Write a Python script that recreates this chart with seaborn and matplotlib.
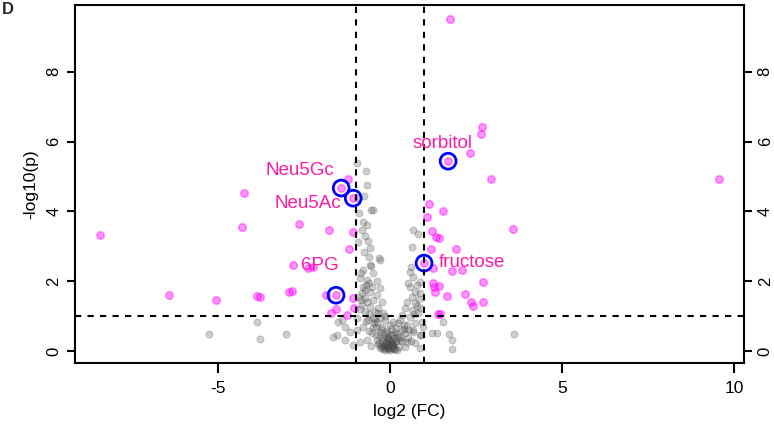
"""Volcano plot of metabolite fold changes (log2 FC vs -log10 p)."""

import matplotlib

matplotlib.use("Agg")
import matplotlib.pyplot as plt
import pandas as pd
import seaborn as sns

# significant metabolites (magenta)
SIG_X = [-4.24, -1.22, -1.42, -1.07, 1.74, 2.67, 2.64, 2.33, 1.69, 2.94, 9.56, 1.13, 1.54,
         -8.43, -4.30, -2.65, -1.77, -1.08, -1.19, -2.82, -2.38, -2.24, -6.42, -5.06, -3.87,
         -3.78, -2.94, -2.84, -1.86, -1.57, -1.08, -1.57, -1.71, -1.25, -1.05,
         1.08, 1.22, 1.34, 1.42, 1.19, 1.92, 0.99, 1.25, 1.80, 2.09, 2.70, 1.25, 1.42, 1.28,
         1.31, 1.66, 2.18, 2.35, 2.41, 2.70, 1.40, 1.45, 3.58]
SIG_Y = [4.53, 4.93, 4.67, 4.38, 9.51, 6.42, 6.22, 5.67, 5.44, 4.93, 4.92, 4.22, 4.01,
         3.32, 3.56, 3.64, 3.47, 3.41, 2.92, 2.46, 2.37, 2.41, 1.60, 1.46, 1.58,
         1.55, 1.68, 1.71, 1.61, 1.60, 1.52, 1.20, 1.09, 1.03, 1.23,
         3.84, 3.44, 3.27, 3.24, 2.92, 2.92, 2.52, 2.38, 2.29, 2.32, 1.98, 1.95, 1.86, 1.83,
         1.69, 1.58, 1.63, 1.40, 1.29, 1.40, 1.06, 1.06, 3.50]

# non-significant metabolites (grey)
NS_X = [-5.26, -3.87, -3.78, -3.02, -1.66, -1.51, 1.54, 1.22, 1.37, 1.72, 1.80, 1.80, 3.60,
        -0.96, -0.70, -0.67, -0.76, -0.93, -0.90, -0.55, -0.49, -0.78, -0.81, -0.73, -0.64,
        -0.93, -0.58, -0.61, -0.32, 0.67, 0.81, 0.64,
        -0.29, -0.58, -0.78, -0.49, -0.87, -0.67, -0.38, -0.78, -0.52, -0.29, -0.81, -0.58,
        -0.38, -0.73, -0.49, -0.23, -0.81, -0.58, -0.35, -0.73, -0.44, -0.20,
        -0.64, -0.38, -0.15, 0.09, -0.78, -0.49, -0.23, 0.00, 0.23, -0.52, -0.29, -0.09,
        0.15, 0.35, -0.67, -0.38, -0.20, -0.06, 0.06, 0.15, 0.29, 0.49, -0.15, 0.00, 0.20,
        -0.29, 0.58, 0.67, 0.87, 0.78, 0.58, 0.73, 0.87, 0.64, 0.49, 0.73, 0.44, 0.64, 0.87,
        0.35, 0.58, 0.49, 0.73, 0.93, 0.67, 0.87, 0.52, 0.73, 0.44, 0.87,
        -1.31, -1.54, -1.31, -1.16, -1.08, -1.40, -0.96,
        -0.10, 0.05, -0.02, 0.10, -0.12, 0.02, -0.05, 0.08, -0.18, 0.12, -0.08, 0.04,
        -0.25, -0.35, -0.42, 0.25, 0.32, -0.55, 0.40, -0.30, 0.18, -0.14, 0.28, -0.45,
        0.55, 0.62, -0.62, -0.70, 0.70, -0.88, 0.90, -0.95, 0.95, -0.85,
        -0.20, -0.15, -0.08, -0.04, 0.00, 0.06, 0.12, -0.22, -0.12, -0.02, 0.08, 0.16,
        -0.30, -0.18, -0.10, 0.03, 0.20, -0.40, -0.26, 0.24, 0.36, -0.48, 0.44, -0.34,
        -0.66, -0.72, -0.84, -0.60, -0.90, -0.54, -0.76, -0.68, 0.52, 0.60, 0.78, 0.84,
        -0.86, -0.62, -0.70, -0.50, 0.40, 0.68, 0.80,
        -0.16, -0.06, 0.02, 0.10, -0.24, -0.12, 0.05, 0.14, -0.32, -0.02]
NS_Y = [0.49, 0.83, 0.34, 0.49, 0.40, 0.83, 0.83, 0.52, 0.52, 0.49, 0.32, 0.06, 0.49,
        5.39, 5.16, 4.76, 4.44, 4.38, 3.95, 4.04, 4.04, 3.70, 3.47, 3.30, 3.15,
        3.12, 2.95, 2.69, 2.66, 3.47, 3.35, 2.98,
        2.61, 2.46, 2.32, 2.23, 2.09, 2.03, 2.01, 1.83, 1.83, 1.81, 1.66, 1.69,
        1.60, 1.52, 1.46, 1.40, 1.32, 1.26, 1.23, 1.12, 1.12, 1.09,
        0.89, 0.83, 0.89, 0.83, 0.69, 0.69, 0.69, 0.74, 0.80, 0.52, 0.54, 0.52,
        0.54, 0.60, 0.32, 0.32, 0.37, 0.23, 0.17, 0.26, 0.32, 0.26, 0.09, 0.03, 0.03,
        0.09, 2.26, 2.12, 1.98, 1.89, 1.83, 1.69, 1.66, 1.55, 1.40, 1.38, 1.23, 1.17, 1.23,
        1.03, 0.97, 0.74, 0.80, 0.83, 0.54, 0.46, 0.37, 0.23, 0.11, 0.09,
        0.69, 0.46, 0.32, 0.54, 0.17, 0.89, 0.95,
        0.15, 0.10, 0.05, 0.20, 0.25, 0.30, 0.40, 0.45, 0.18, 0.38, 0.58, 0.62,
        0.15, 0.20, 0.45, 0.12, 0.40, 0.15, 0.62, 0.95, 0.66, 1.00, 0.88, 0.92,
        0.60, 0.28, 0.58, 0.85, 1.05, 0.25, 0.45, 0.60, 0.70, 1.45,
        0.06, 0.14, 0.08, 0.18, 0.12, 0.22, 0.07, 0.30, 0.26, 0.35, 0.14, 0.28,
        0.42, 0.50, 0.36, 0.46, 0.48, 0.70, 0.62, 0.40, 0.30, 0.80, 0.52, 1.10,
        1.40, 1.75, 2.25, 1.95, 1.55, 2.45, 2.85, 3.60, 1.95, 2.40, 1.30, 1.50,
        1.20, 1.05, 1.90, 0.95, 0.75, 0.60, 1.10,
        0.04, 0.10, 0.16, 0.09, 0.12, 0.20, 0.24, 0.05, 0.22, 0.32]

# highlighted metabolites (blue ring + label)
HL_NAMES = ["Neu5Gc", "Neu5Ac", "sorbitol", "fructose", "6PG"]
HL_X = [-1.42, -1.07, 1.69, 0.99, -1.57]
HL_Y = [4.67, 4.38, 5.44, 2.52, 1.60]
LABEL_X = [-2.62, -2.38, 1.54, 1.42, -2.03]
LABEL_Y = [5.16, 4.24, 5.96, 2.55, 2.44]
LABEL_HA = ["center", "center", "center", "left", "center"]

PINK = "#FF1AA6"
MAGENTA = "#FF00FF"

sns.set_theme(style="white")
plt.rcParams["font.family"] = ["Liberation Sans", "DejaVu Sans"]
plt.rcParams["axes.unicode_minus"] = False

sig = pd.DataFrame({"log2fc": SIG_X, "nlogp": SIG_Y})
ns = pd.DataFrame({"log2fc": NS_X, "nlogp": NS_Y})
hl = pd.DataFrame({"log2fc": HL_X, "nlogp": HL_Y})

fig = plt.figure(figsize=(7.74, 4.29), dpi=100)
ax = fig.add_axes([0.097, 0.154, 0.864, 0.834])

sns.scatterplot(data=ns, x="log2fc", y="nlogp", ax=ax, s=26, color="#4d4d4d",
                alpha=0.28, edgecolor="#4d4d4d", linewidth=0.6)
sns.scatterplot(data=sig, x="log2fc", y="nlogp", ax=ax, s=28, color=MAGENTA,
                alpha=0.4, edgecolor=MAGENTA, linewidth=1.3)
sns.scatterplot(data=hl, x="log2fc", y="nlogp", ax=ax, s=130, facecolor="none",
                edgecolor="#0000FF", linewidth=2)

for name, lx, ly, ha in zip(HL_NAMES, LABEL_X, LABEL_Y, LABEL_HA):
    ax.text(lx, ly, name, color=PINK, fontsize=13.5, ha=ha, va="center")

ax.axvline(-1, color="black", linestyle=(0, (3, 3)), linewidth=1.5)
ax.axvline(1, color="black", linestyle=(0, (3, 3)), linewidth=1.5)
ax.axhline(1, color="black", linestyle=(0, (3, 3)), linewidth=1.5)

ax.set_xlim(-9.16, 10.29)
ax.set_ylim(-0.34, 9.91)
ax.set_xticks([-5, 0, 5, 10])
ax.set_yticks([0, 2, 4, 6, 8])
ax.set_xlabel("log2 (FC)", fontsize=12.5, labelpad=6, color="black")
ax.set_ylabel("-log10(p)", fontsize=12.5, labelpad=6, color="black")
ax.tick_params(axis="x", which="both", bottom=True, direction="out", length=7,
               width=1.5, labelsize=12.5, color="black", labelcolor="black", pad=6)
ax.tick_params(axis="y", which="both", left=True, right=True, labelright=True,
               direction="out", length=6, width=1.5, labelsize=12, color="black",
               labelcolor="black", pad=4)
for lab in ax.get_yticklabels():
    lab.set_rotation(90)
    lab.set_va("center")
for spine in ax.spines.values():
    spine.set_color("black")
    spine.set_linewidth(1.5)

# panel letter in the top-left corner
fig.text(0.002, 0.996, "D", fontsize=12, fontweight="bold", va="top", ha="left")

fig.savefig("out.png", dpi=100)
